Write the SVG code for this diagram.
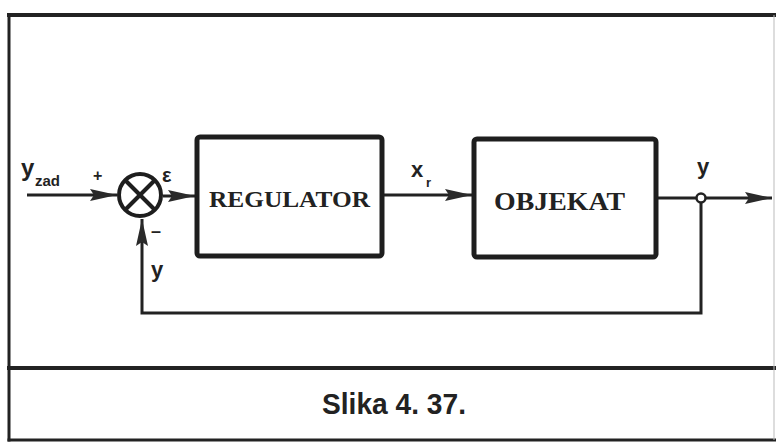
<svg xmlns="http://www.w3.org/2000/svg" width="776" height="443" viewBox="0 0 776 443">
<style>
.frame{fill:none;stroke:#222;stroke-linecap:square}
.box{fill:#fff;stroke:#1e1e1e;stroke-width:5}
.wire{fill:none;stroke:#222;stroke-width:3}
.lbl{font-family:"Liberation Sans","DejaVu Sans",sans-serif;font-weight:bold;fill:#222}
.blk{font-family:"Liberation Serif","DejaVu Serif",serif;font-weight:bold;fill:#222}
</style>
<defs>
<marker id="ah" markerUnits="userSpaceOnUse" markerWidth="28" markerHeight="14" refX="27" refY="7" orient="auto">
<path d="M0,1 L27,7 L0,13 L4,7 z" fill="#2a2a2a"/>
</marker>
</defs>
<rect width="776" height="443" fill="#fff"/>
<g id="frame">
<line class="frame" x1="9" y1="15" x2="776" y2="15" stroke-width="4"/>
<line class="frame" x1="9" y1="15" x2="9" y2="440" stroke-width="3"/>
<line class="frame" x1="9" y1="368" x2="776" y2="368" stroke-width="4"/>
<line class="frame" x1="9" y1="440" x2="776" y2="440" stroke-width="3"/>
<line x1="774" y1="15" x2="774" y2="440" stroke="#bbb" stroke-width="1"/>
</g>
<g id="connectors">
<line class="wire" x1="27" y1="195" x2="117" y2="195" marker-end="url(#ah)"/>
<line class="wire" x1="163" y1="196" x2="195" y2="196" marker-end="url(#ah)"/>
<line class="wire" x1="383" y1="195" x2="472" y2="195" marker-end="url(#ah)"/>
<line class="wire" x1="657" y1="198" x2="697" y2="198"/>
<line class="wire" x1="705" y1="198" x2="772" y2="198" marker-end="url(#ah)"/>
<polyline class="wire" points="701,202 701,313 142,313 142,219" marker-end="url(#ah)"/>
</g>
<g id="sum">
<circle cx="140" cy="195" r="21" fill="#fff" stroke="#1e1e1e" stroke-width="4"/>
<line x1="125" y1="180" x2="155" y2="210" stroke="#1e1e1e" stroke-width="4"/>
<line x1="155" y1="180" x2="125" y2="210" stroke="#1e1e1e" stroke-width="4"/>
</g>
<g id="regulator">
<rect class="box" x="197" y="137" width="185" height="119" rx="3"/>
<text class="blk" x="289.5" y="207" font-size="24" text-anchor="middle" textLength="161" lengthAdjust="spacingAndGlyphs">REGULATOR</text>
</g>
<g id="objekat">
<rect class="box" x="474" y="139" width="182" height="118" rx="3"/>
<text class="blk" x="559.5" y="210" font-size="25" text-anchor="middle" textLength="131" lengthAdjust="spacingAndGlyphs">OBJEKAT</text>
</g>
<g id="branch">
<circle cx="701" cy="198" r="4.5" fill="#fff" stroke="#222" stroke-width="2.5"/>
</g>
<g id="labels">
<text class="lbl" x="21" y="176" font-size="24">y</text>
<text class="lbl" x="35" y="186" font-size="15">zad</text>
<text class="lbl" x="93" y="181" font-size="16">+</text>
<text class="lbl" x="162" y="182" font-size="20" font-family="Liberation Serif">ε</text>
<text class="lbl" x="151" y="237" font-size="18">–</text>
<text class="lbl" x="151" y="277" font-size="22">y</text>
<text class="lbl" x="411" y="177" font-size="22">x</text>
<text class="lbl" x="426" y="187" font-size="13">r</text>
<text class="lbl" x="697" y="174" font-size="22">y</text>
</g>
<g id="caption">
<text x="394" y="414" font-family="'Liberation Sans Narrow','Liberation Sans',sans-serif" font-weight="bold" font-size="29" fill="#222" text-anchor="middle" textLength="144" lengthAdjust="spacingAndGlyphs">Slika 4. 37.</text>
</g>
</svg>
